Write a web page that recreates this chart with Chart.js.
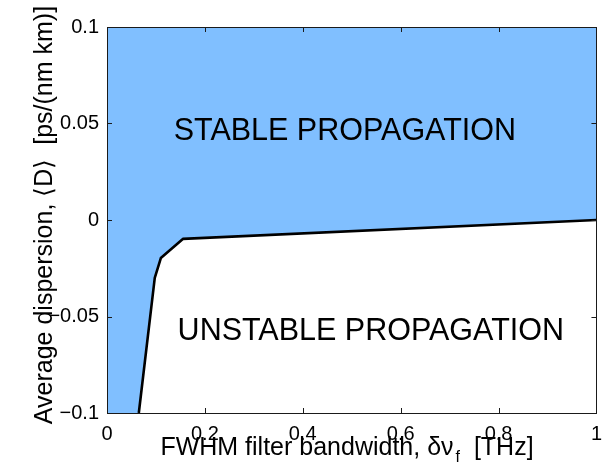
<!DOCTYPE html>
<html>
<head>
<meta charset="utf-8">
<script src="https://cdn.jsdelivr.net/npm/chart.js@4"></script>
<style>
  html, body { margin: 0; padding: 0; background: #fff; }
  #wrap { width: 611px; height: 466px; }
</style>
</head>
<body>
<div id="wrap"><canvas id="chart" width="611" height="466"></canvas></div>
<script>
// ── Data ──────────────────────────────────────────────────────────────────────

const bandwidth  = [0.065, 0.0976, 0.11, 0.155, 1.0];     // THz
const dispersion = [-0.1, -0.030, -0.0197, -0.0098, 0.0];  // ps/(nm km)

const xTicks = [0, 0.2, 0.4, 0.6, 0.8, 1];
const yTicks = [-0.1, -0.05, 0, 0.05, 0.1];

const X_MIN = 0, X_MAX = 1, Y_MIN = -0.1, Y_MAX = 0.1;

const boundary = bandwidth.map((x, i) => ({ x, y: dispersion[i] }));
// stable region: everything above the boundary, incl. the strip left of it
const stableEdge = [{ x: X_MIN, y: Y_MIN }, ...boundary];

const FONT = '"Liberation Sans", Arial, sans-serif';
const BLUE = 'rgb(128,191,255)';
const AXIS = '#1a1a1a';

function fmt(v) {
  const r = Number(v.toFixed(2));
  if (r === 0) return '0';
  return r < 0 ? '\u2212' + String(-r) : String(r);
}

// ── Plugins ───────────────────────────────────────────────────────────────────

const boxPlugin = {
  id: 'box',
  afterDatasetsDraw(chart) {
    const { ctx, chartArea: a, scales: { x, y } } = chart;
    const len = 5;
    ctx.save();
    ctx.strokeStyle = AXIS;
    ctx.lineWidth = 1;
    ctx.beginPath();
    for (const t of xTicks) {
      const px = Math.round(x.getPixelForValue(t)) + 0.5;
      ctx.moveTo(px, a.bottom); ctx.lineTo(px, a.bottom - len);
      ctx.moveTo(px, a.top);    ctx.lineTo(px, a.top + len);
    }
    for (const t of yTicks) {
      const py = Math.round(y.getPixelForValue(t)) + 0.5;
      ctx.moveTo(a.left, py);  ctx.lineTo(a.left + len, py);
      ctx.moveTo(a.right, py); ctx.lineTo(a.right - len, py);
    }
    ctx.stroke();
    ctx.strokeRect(Math.round(a.left) + 0.5, Math.round(a.top) + 0.5,
                   Math.round(a.right - a.left), Math.round(a.bottom - a.top));
    ctx.restore();
  }
};

const labelsPlugin = {
  id: 'labels',
  afterDraw(chart) {
    const { ctx, scales: { x, y } } = chart;
    ctx.save();
    ctx.fillStyle = '#000';

    // region labels
    ctx.font = '30.5px ' + FONT;
    ctx.textAlign = 'center';
    ctx.textBaseline = 'alphabetic';
    ctx.fillText('STABLE PROPAGATION', x.getPixelForValue(0.486), y.getPixelForValue(0.0415));
    ctx.fillText('UNSTABLE PROPAGATION', x.getPixelForValue(0.539), y.getPixelForValue(-0.0622));

    // x title with subscript
    ctx.textAlign = 'left';
    const big = '25px ' + FONT, small = '16px ' + FONT;
    const p1 = 'FWHM filter bandwidth, \u03b4\u03bd', sub = 'f', p2 = '  [THz]';
    ctx.font = big;   const w1 = ctx.measureText(p1).width, w3 = ctx.measureText(p2).width;
    ctx.font = small; const w2 = ctx.measureText(sub).width;
    let sx = 347 - (w1 + w2 + 2 + w3) / 2;
    const base = 455;
    ctx.font = big;   ctx.fillText(p1, sx, base); sx += w1;
    ctx.font = small; ctx.fillText(sub, sx + 2, base + 7); sx += w2 + 2;
    ctx.font = big;   ctx.fillText(p2, sx, base);

    // y title, rotated
    ctx.translate(52, 215);
    ctx.rotate(-Math.PI / 2);
    ctx.font = '25px ' + FONT;
    ctx.textAlign = 'center';
    ctx.fillText('Average dispersion, \u27e8D\u27e9  [ps/(nm km)]', 0, 0);
    ctx.restore();
  }
};

// ── Chart ─────────────────────────────────────────────────────────────────────

new Chart(document.getElementById('chart'), {
  type: 'scatter',
  data: {
    datasets: [
      {
        data: boundary,
        showLine: true,
        borderColor: '#000',
        borderWidth: 2.6,
        pointRadius: 0,
        fill: false,
        tension: 0,
        borderJoinStyle: 'round',
      },
      {
        data: stableEdge,
        showLine: true,
        borderWidth: 0,
        borderColor: 'rgba(0,0,0,0)',
        backgroundColor: BLUE,
        pointRadius: 0,
        fill: 'end',
        tension: 0,
      }
    ]
  },
  options: {
    responsive: false,
    animation: false,
    events: [],
    layout: { padding: { top: 27, right: 12, left: 0, bottom: 0 } },
    plugins: { legend: { display: false }, tooltip: { enabled: false } },
    scales: {
      x: {
        type: 'linear',
        min: X_MIN, max: X_MAX,
        afterFit: s => { s.height = 53; },
        afterBuildTicks: s => { s.ticks = xTicks.map(v => ({ value: v })); },
        grid: { display: false, drawTicks: false },
        border: { display: false },
        ticks: { color: '#000', font: { family: FONT, size: 20 }, padding: 9, maxRotation: 0,
                 callback: v => fmt(v) },
      },
      y: {
        type: 'linear',
        min: Y_MIN, max: Y_MAX,
        afterFit: s => { s.width = 107; },
        afterBuildTicks: s => { s.ticks = yTicks.map(v => ({ value: v })); },
        grid: { display: false, drawTicks: false },
        border: { display: false },
        ticks: { color: '#000', font: { family: FONT, size: 20 }, padding: 8,
                 callback: v => fmt(v) },
      }
    }
  },
  plugins: [boxPlugin, labelsPlugin]
});
</script>
</body>
</html>
